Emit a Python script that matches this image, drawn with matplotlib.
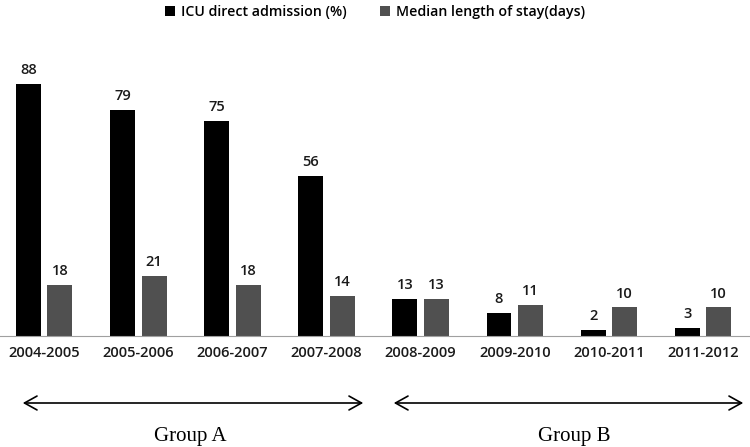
import numpy as np
import matplotlib
matplotlib.use('Agg')
from matplotlib import pyplot as plt

years = ['2004-2005', '2005-2006', '2006-2007', '2007-2008',
         '2008-2009', '2009-2010', '2010-2011', '2011-2012']
icu_direct = [88, 79, 75, 56, 13, 8, 2, 3]
median_stay = [18, 21, 18, 14, 13, 11, 10, 10]
groups = ['Group A', 'Group B']

plt.rcParams['font.family'] = ['Open Sans', 'DejaVu Sans']

fig = plt.figure(figsize=(7.5, 4.47), dpi=100)
ax = fig.add_axes([0.0, 0.248, 1.0, 0.705])

x = np.arange(len(years))
w = 0.265
b1 = ax.bar(x - 0.167, icu_direct, w, color='black', label='ICU direct admission (%)')
b2 = ax.bar(x + 0.167, median_stay, w, color='#505050', label='Median length of stay(days)')

for bars, vals in ((b1, icu_direct), (b2, median_stay)):
    for r, v in zip(bars, vals):
        ax.annotate(str(v), (r.get_x() + r.get_width() / 2, r.get_height()),
                    xytext=(0, 5), textcoords='offset points', ha='center', va='bottom',
                    fontsize=10.5, fontweight='semibold', color='#1a1a1a')

ax.set_xlim(-0.47, len(years) - 0.5)
ax.set_ylim(0, 110)
ax.set_xticks(x)
ax.set_xticklabels(years, fontsize=10.5, fontweight='semibold', color='#1a1a1a')
ax.tick_params(axis='x', length=0, pad=7)
ax.set_yticks([])
for s in ['top', 'right', 'left']:
    ax.spines[s].set_visible(False)
ax.spines['bottom'].set_color('#a0a0a0')

leg = ax.legend(loc='upper center', bbox_to_anchor=(0.5, 1.09), ncol=2, frameon=False,
                handlelength=0.7, handleheight=0.7, handletextpad=0.4, columnspacing=2.4,
                prop={'size': 10.2, 'weight': 'semibold'})

# group arrows and labels (figure coords, pixels / size)
arrow_y = 1 - 403 / 447
for (x0, x1), xt, name in zip([(20, 366), (391, 746)], [190, 574], groups):
    fig.add_artist(matplotlib.patches.FancyArrowPatch(
        (x0 / 750, arrow_y), (x1 / 750, arrow_y), transform=fig.transFigure,
        arrowstyle='<->,head_length=9,head_width=5', color='black', lw=1.2,
        mutation_scale=1))
    fig.text(xt / 750, 1 - 436 / 447, name, ha='center', va='center',
             fontsize=15, family='Liberation Serif')

fig.savefig('out.png', dpi=100)
